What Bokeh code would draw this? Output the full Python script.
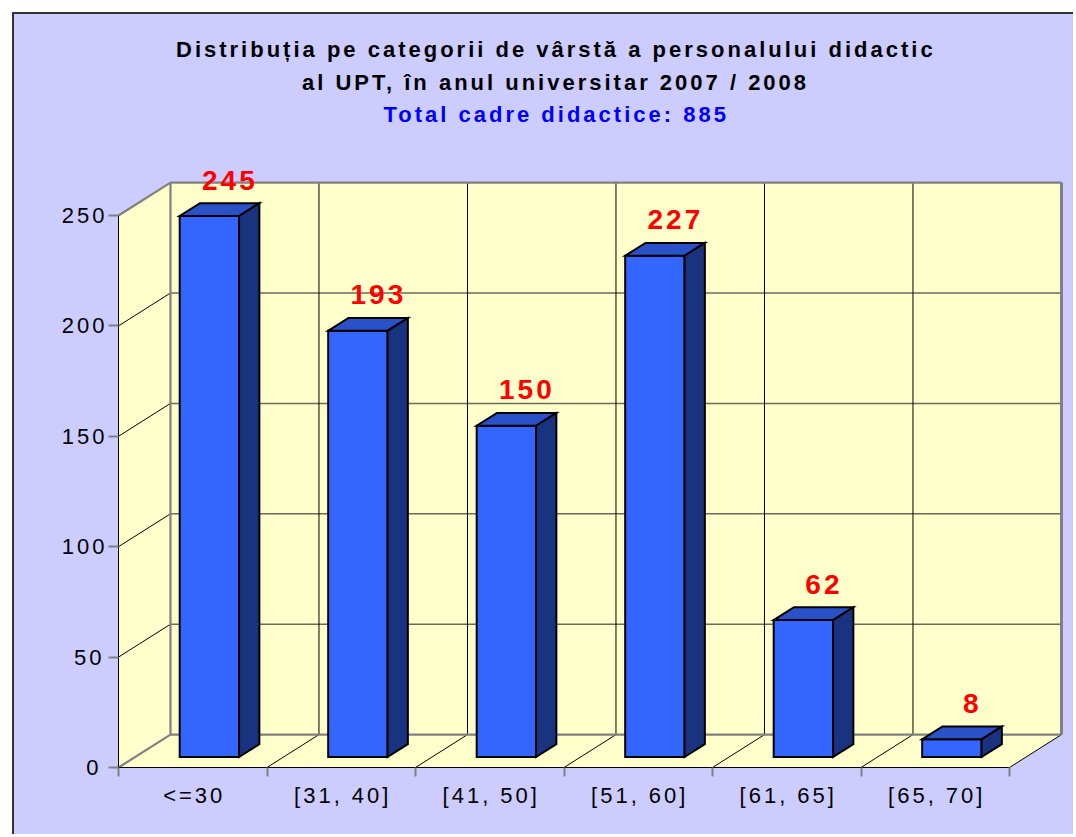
import numpy as np
from bokeh.plotting import figure
from bokeh.models import Range1d, LinearAxis, FixedTicker, Title, Grid
from bokeh.embed import file_html
from bokeh.resources import INLINE
from bokeh.core.properties import value

# ---------------- data ----------------
categories = ["<=30", "[31, 40]", "[41, 50]", "[51, 60]", "[61, 65]", "[65, 70]"]
counts = [245, 193, 150, 227, 62, 8]
y_ticks = [0, 50, 100, 150, 200, 250]
title_line1 = "Distribuția pe categorii de vârstă a personalului didactic"
title_line2 = "al UPT, în anul universitar 2007 / 2008"
subtitle = "Total cadre didactice: 885"

# ---------------- style / geometry ----------------
BG = "#CCCCFF"
WALL = "#FFFFCC"
FRONT = "#3366FF"
TOPC = "#2A52C8"
SIDE = "#1A3380"
EDGE = "#808080"
FONT = "Liberation Sans"
LS = 3.0                 # letter spacing (px)

DX, DY = 0.35, 14.9      # depth of the 3-D box in data units
F1, F2 = 0.32, 0.71      # bar depth position (fraction of box depth)
HALF = 0.2               # half bar width (category units)
YMAX = y_ticks[-1]
n = len(categories)

MARGIN = 12
CX0, CY0 = MARGIN + 1, MARGIN + 1
W, H = 1076 - CX0 - 2, 837 - CY0 - 2
TOP = 115
X0PX, XS = 117, 148.5
Y0PX, YS = 766, 2.208
x_start = (CX0 - X0PX) / XS
x_end = (CX0 + W - X0PX) / XS
y_end = (Y0PX - (CY0 + TOP)) / YS
y_start = (Y0PX - (CY0 + H)) / YS

p = figure(width=W, height=H,
           x_range=Range1d(x_start, x_end), y_range=Range1d(y_start, y_end),
           output_backend="svg", toolbar_location=None,
           x_axis_location=None, y_axis_location=None, title=None,
           min_border_left=0, min_border_right=0, min_border_bottom=0,
           min_border_top=TOP,
           background_fill_color=None, border_fill_color=BG,
           outline_line_color=None, margin=(MARGIN, 0, 0, MARGIN),
           styles={"border-top": "2px solid #333333",
                   "border-left": "2px solid #333333",
                   "background-color": BG,
                   "letter-spacing": f"{LS}px"})
for r in list(p.center):
    if isinstance(r, Grid):
        r.visible = False
        r.grid_line_color = None

# ---------------- walls & floor ----------------
side_x = [0, DX, DX, 0]
side_y = [0, DY, YMAX + DY, YMAX]
back_x = [DX, n + DX, n + DX, DX]
back_y = [DY, DY, YMAX + DY, YMAX + DY]
floor_x = [0, n, n + DX, DX]
floor_y = [0, 0, DY, DY]
p.patches(xs=[side_x, back_x, floor_x], ys=[side_y, back_y, floor_y],
          fill_color=WALL, line_color=None)

gl = [t for t in y_ticks if 0 < t < YMAX]
p.segment(x0=[DX] * len(gl), y0=[t + DY for t in gl], x1=[n + DX] * len(gl),
          y1=[t + DY for t in gl], line_color="#6b6b5a", line_width=1.5)
p.segment(x0=[0] * len(gl), y0=gl, x1=[DX] * len(gl), y1=[t + DY for t in gl],
          line_color="black", line_width=1)
vk = list(range(1, n))
p.segment(x0=[k + DX for k in vk], y0=[DY] * len(vk), x1=[k + DX for k in vk],
          y1=[YMAX + DY] * len(vk), line_color="black", line_width=1)
fk = list(range(1, n + 1))
p.segment(x0=fk, y0=[0] * len(fk), x1=[k + DX for k in fk], y1=[DY] * len(fk),
          line_color="black", line_width=1)
p.segment(x0=[0, 0, DX, DX, DX],
          y0=[0, YMAX, DY, YMAX + DY, DY],
          x1=[DX, DX, DX, n + DX, n + DX],
          y1=[DY, YMAX + DY, YMAX + DY, YMAX + DY, DY],
          line_color=EDGE, line_width=2.2)
p.segment(x0=[n + DX], y0=[DY], x1=[n + DX], y1=[YMAX + DY],
          line_color=EDGE, line_width=3)

# ---------------- bars ----------------
fdx1, fdy1 = DX * F1, DY * F1
fdx2, fdy2 = DX * F2, DY * F2
for i, v in enumerate(counts):
    c = i + 0.5
    x0, x1 = c - HALF + fdx1, c + HALF + fdx1
    bx0, bx1 = c - HALF + fdx2, c + HALF + fdx2
    front_x = [x0, x1, x1, x0]
    front_y = [fdy1, fdy1, v + fdy1, v + fdy1]
    top_x = [x0, x1, bx1, bx0]
    top_y = [v + fdy1, v + fdy1, v + fdy2, v + fdy2]
    side_xs = [x1, bx1, bx1, x1]
    side_ys = [fdy1, fdy2, v + fdy2, v + fdy1]
    p.patches(xs=[front_x, top_x, side_xs], ys=[front_y, top_y, side_ys],
              fill_color=[FRONT, TOPC, SIDE], line_color="black",
              line_width=2, line_join="miter")

labels = [str(v) for v in counts]
p.text(x=[i + 0.5 + 0.24 - (len(s) - 1) * LS / 2 / XS for i, s in enumerate(labels)],
       y=[v + 21 for v in counts],
       text=labels, text_font=value(FONT),
       text_font_size="28px", text_font_style="bold", text_color="#FF0000",
       text_align="center", text_baseline="middle")

# ---------------- axes ----------------
yaxis = LinearAxis(fixed_location=0, bounds=(0, YMAX),
                   ticker=FixedTicker(ticks=y_ticks, minor_ticks=[]))
yaxis.axis_line_color = "black"
yaxis.axis_line_width = 1
yaxis.major_tick_line_color = EDGE
yaxis.major_tick_line_width = 2
yaxis.major_tick_out = 10
yaxis.major_tick_in = 0
yaxis.minor_tick_line_color = None
yaxis.major_label_standoff = 10
yaxis.major_label_text_font = FONT
yaxis.major_label_text_font_size = "22px"
yaxis.major_label_text_color = "black"
p.add_layout(yaxis, "left")

label_pos = [i + 0.5 - (len(s) - 1) * LS / 2 / XS for i, s in enumerate(categories)]
xaxis = LinearAxis(fixed_location=0, bounds=(0, n),
                   ticker=FixedTicker(ticks=label_pos, minor_ticks=list(range(n + 1))))
xaxis.major_label_overrides = {c: lab for c, lab in zip(label_pos, categories)}
xaxis.axis_line_color = "black"
xaxis.axis_line_width = 1
xaxis.major_tick_line_color = None
xaxis.major_tick_out = 0
xaxis.major_tick_in = 0
xaxis.minor_tick_line_color = EDGE
xaxis.minor_tick_line_width = 2
xaxis.minor_tick_out = 9
xaxis.minor_tick_in = 0
xaxis.major_label_standoff = 6
xaxis.major_label_text_font = FONT
xaxis.major_label_text_font_size = "22px"
xaxis.major_label_text_color = "black"
p.add_layout(xaxis, "below")

# ---------------- titles ----------------
# (text, colour, standoff, rendered width incl. letter spacing)
TITLE_CX = 553
for txt, col, so, w in [(subtitle, "#0000FF", 6, 342),
                        (title_line2, "black", 4, 505),
                        (title_line1, "black", 8, 757)]:
    p.add_layout(Title(text=txt, align="left", text_font=FONT,
                       text_font_size="22px", text_font_style="bold",
                       text_color=col, standoff=so,
                       offset=TITLE_CX - w / 2 - CX0), "above")

open("out.html", "w").write(file_html(p, INLINE))
